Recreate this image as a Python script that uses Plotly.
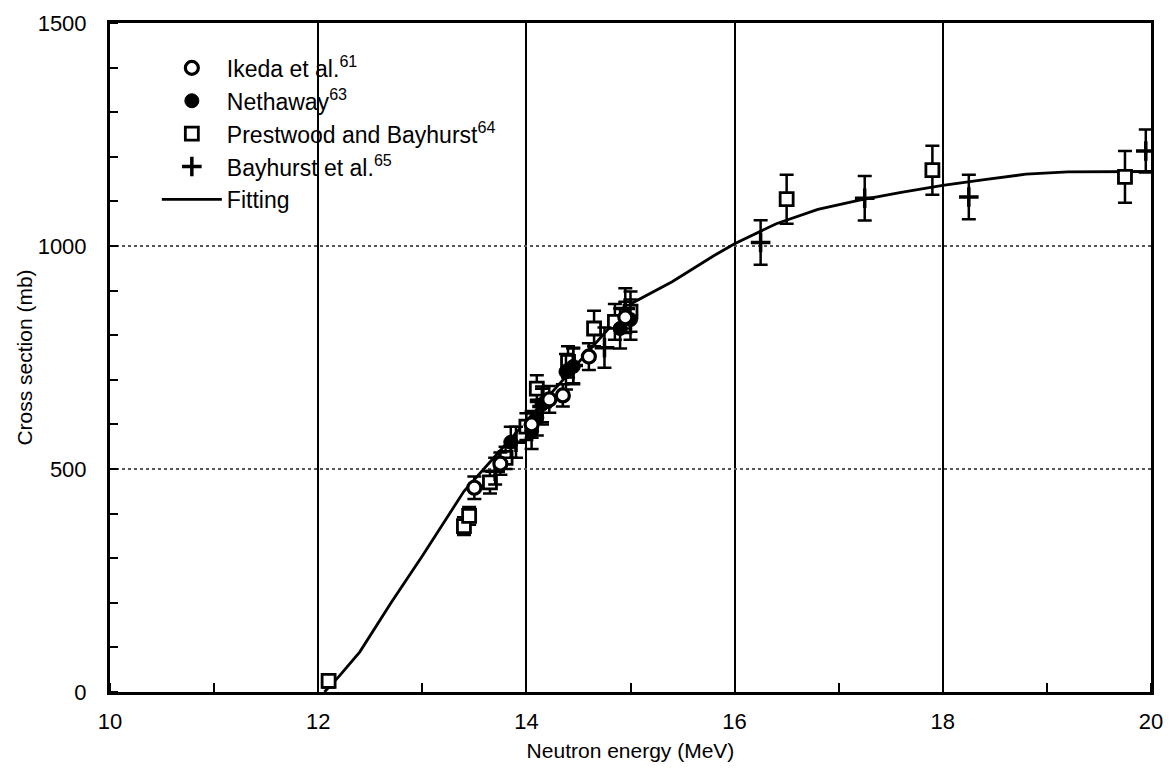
import plotly.graph_objects as go

# ---- data ----
ikeda_e = [13.5, 13.75, 14.05, 14.22, 14.35, 14.6, 14.95]
ikeda_s = [458, 512, 600, 656, 665, 752, 840]
ikeda_err = [25, 25, 30, 30, 25, 30, 35]

neth_e = [13.85, 14.05, 14.1, 14.15, 14.38, 14.45, 14.9, 15.0]
neth_s = [560, 585, 615, 645, 718, 730, 815, 835]
neth_err = [35, 40, 40, 40, 40, 40, 45, 45]

prest_e = [12.1, 13.4, 13.45, 13.65, 13.8, 14.0, 14.1, 14.4, 14.65, 14.85, 15.0, 16.5, 17.9, 19.75]
prest_s = [25, 372, 395, 470, 525, 595, 680, 740, 815, 830, 853, 1105, 1170, 1155]
prest_err = [15, 20, 20, 25, 25, 30, 30, 35, 40, 40, 45, 55, 55, 58]

bay_e = [13.7, 13.9, 14.15, 14.45, 14.75, 14.95, 16.25, 17.25, 18.25, 19.95]
bay_s = [495, 560, 640, 732, 772, 860, 1008, 1107, 1110, 1213]
bay_err = [30, 35, 40, 40, 45, 45, 50, 50, 50, 48]

fit_e = [12.06, 12.2, 12.4, 12.7, 13.0, 13.4, 13.8, 14.2, 14.6, 15.0, 15.4, 15.8, 16.0,
         16.4, 16.8, 17.2, 17.6, 18.0, 18.4, 18.8, 19.2, 19.6, 20.0]
fit_s = [0, 35, 90, 200, 305, 450, 555, 660, 765, 870, 920, 978, 1005,
         1050, 1082, 1103, 1120, 1136, 1149, 1161, 1166, 1167, 1167]

x_ticks = [10, 12, 14, 16, 18, 20]
y_ticks = [0, 500, 1000, 1500]

FONT = "Liberation Sans, Arial, sans-serif"

fig = go.Figure()

err_style = dict(type="data", color="black", thickness=2.5, width=7, visible=True)

fig.add_trace(go.Scatter(
    x=fit_e, y=fit_s, mode="lines", name="Fitting",
    line=dict(color="black", width=2.8), legendrank=5))

fig.add_trace(go.Scatter(
    x=prest_e, y=prest_s, mode="markers", name="Prestwood and Bayhurst<sup>64</sup>",
    marker=dict(symbol="square", size=13, color="white", line=dict(color="black", width=2.8)),
    error_y=dict(array=prest_err, **err_style), legendrank=3))

fig.add_trace(go.Scatter(
    x=bay_e, y=bay_s, mode="markers", name="Bayhurst et al.<sup>65</sup>",
    marker=dict(symbol="cross-thin", size=14, color="black", line=dict(color="black", width=3.5)),
    error_y=dict(array=bay_err, **err_style), legendrank=4))

fig.add_trace(go.Scatter(
    x=neth_e, y=neth_s, mode="markers", name="Nethaway<sup>63</sup>",
    marker=dict(symbol="circle", size=14, color="black", line=dict(color="black", width=1)),
    error_y=dict(array=neth_err, **err_style), legendrank=2))

fig.add_trace(go.Scatter(
    x=ikeda_e, y=ikeda_s, mode="markers", name="Ikeda et al.<sup>61</sup>",
    marker=dict(symbol="circle", size=13, color="white", line=dict(color="black", width=3.2)),
    error_y=dict(array=ikeda_err, **err_style), legendrank=1))

fig.update_layout(
    width=1174, height=772,
    margin=dict(l=110, r=11, t=20, b=80),
    paper_bgcolor="white", plot_bgcolor="white",
    font=dict(family=FONT, size=22, color="black"),
    showlegend=True,
    legend=dict(x=0.045, y=0.965, xanchor="left", yanchor="top",
                bgcolor="rgba(0,0,0,0)", borderwidth=0,
                font=dict(family=FONT, size=23, color="black"),
                itemwidth=60),
    xaxis=dict(range=[10, 20], tickvals=x_ticks, ticktext=[str(v) for v in x_ticks],
               tickfont=dict(size=22), ticklabelstandoff=8,
               ticks="", showline=True, linecolor="black", linewidth=3, mirror=True,
               showgrid=True, gridcolor="black", gridwidth=2,
               minor=dict(dtick=1, tick0=11, ticks="inside", ticklen=9, tickwidth=2,
                          tickcolor="black", showgrid=False),
               title=dict(text="Neutron energy (MeV)", font=dict(size=21), standoff=10),
               zeroline=False),
    yaxis=dict(range=[0, 1500], tickvals=y_ticks, ticktext=[str(v) for v in y_ticks],
               tickfont=dict(size=22), ticklabelstandoff=16,
               ticks="", showline=True, linecolor="black", linewidth=3, mirror=True,
               showgrid=True, gridcolor="#555555", gridwidth=1.5, griddash="dot",
               minor=dict(dtick=100, ticks="inside", ticklen=8, tickwidth=2,
                          tickcolor="black", showgrid=False),
               title=dict(text="Cross section (mb)", font=dict(size=21), standoff=0),
               zeroline=False),
)

fig.write_html("out.html")
